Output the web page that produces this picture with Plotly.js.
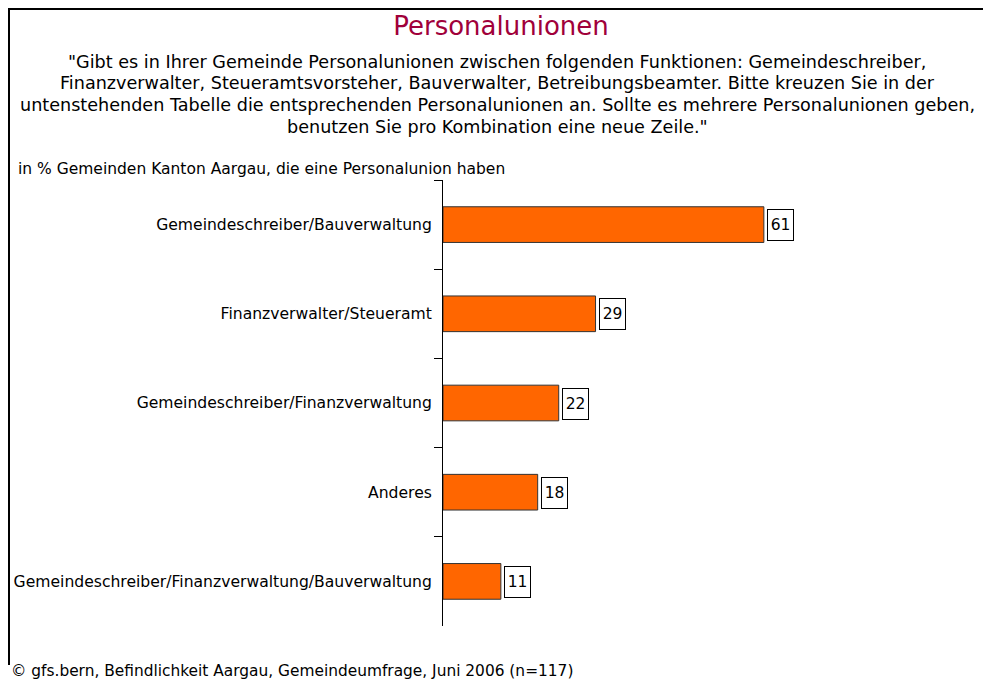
<!DOCTYPE html>
<html>
<head>
<meta charset="utf-8">
<script src="https://cdn.plot.ly/plotly-3.0.1.min.js"></script>
<style>
html,body{margin:0;padding:0;background:#fff;}
#chart{width:983px;height:681px;}
</style>
</head>
<body>
<div id="chart"></div>
<script>
const categories = [
  "Gemeindeschreiber/Bauverwaltung",
  "Finanzverwalter/Steueramt",
  "Gemeindeschreiber/Finanzverwaltung",
  "Anderes",
  "Gemeindeschreiber/Finanzverwaltung/Bauverwaltung"
];
const values = [61, 29, 22, 18, 11];

const titleText = "Personalunionen";
const questionLines = [
  "\"Gibt es in Ihrer Gemeinde Personalunionen zwischen folgenden Funktionen: Gemeindeschreiber,",
  "Finanzverwalter, Steueramtsvorsteher, Bauverwalter, Betreibungsbeamter. Bitte kreuzen Sie in der",
  "untenstehenden Tabelle die entsprechenden Personalunionen an. Sollte es mehrere Personalunionen geben,",
  "benutzen Sie pro Kombination eine neue Zeile.\""
];
const subtitleText = "in % Gemeinden Kanton Aargau, die eine Personalunion haben";
const footerText = "© gfs.bern, Befindlichkeit Aargau, Gemeindeumfrage, Juni 2006 (n=117)";

const W = 983, H = 681;
const mL = 443, mR = 14, mT = 180, mB = 55;
const pw = W - mL - mR, ph = H - mT - mB;
const px = x => (x - mL) / pw;
const py = y => 1 - (y - mT) / ph;

const FONT = "DejaVu Sans, Verdana, sans-serif";

const trace = {
  type: "bar",
  orientation: "h",
  x: values,
  y: categories,
  marker: {color: "#FF6600", line: {color: "#333333", width: 1}},
  hoverinfo: "x+y"
};

const valueAnn = values.map((v, i) => ({
  x: v, y: categories[i], xref: "x", yref: "y",
  text: String(v), showarrow: false,
  xanchor: "left", yanchor: "middle", xshift: 3, yshift: -0.5,
  width: 25, height: 30, borderpad: 0,
  bordercolor: "#000", borderwidth: 1, bgcolor: "#fff",
  font: {family: FONT, size: 15.5, color: "#000"}
}));

const lineY = [61.7, 83.4, 105.1, 126.8];
const questionAnn = questionLines.map((t, i) => ({
  text: t, xref: "paper", yref: "paper", x: px(497), y: py(lineY[i]),
  xanchor: "center", yanchor: "middle", showarrow: false, align: "center",
  font: {family: FONT, size: 17.6, color: "#000"}
}));

const layout = {
  width: W, height: H,
  margin: {l: mL, r: mR, t: mT, b: mB},
  paper_bgcolor: "#fff", plot_bgcolor: "#fff",
  showlegend: false,
  bargap: 0.6,
  title: {
    text: titleText,
    font: {family: FONT, size: 26, color: "#A0003A"},
    x: 501 / W, xref: "container", xanchor: "center",
    y: 1 - 25.5 / H, yref: "container", yanchor: "middle"
  },
  xaxis: {range: [0, 100], visible: false, fixedrange: true},
  yaxis: {
    type: "category", autorange: "reversed",
    showline: true, linecolor: "#000", linewidth: 1,
    ticks: "outside", ticklen: 8, tickcolor: "#000", tickwidth: 1,
    tickson: "boundaries", showgrid: false, zeroline: false,
    tickfont: {family: FONT, size: 15.6, color: "#000"},
    ticklabelstandoff: 7
  },
  annotations: questionAnn.concat([
    {text: subtitleText, xref: "paper", yref: "paper", x: px(16), y: py(169),
     xanchor: "left", yanchor: "middle", showarrow: false, align: "left",
     font: {family: FONT, size: 15.5, color: "#000"}},
    {text: footerText, xref: "paper", yref: "paper", x: px(9), y: py(671),
     xanchor: "left", yanchor: "middle", showarrow: false, align: "left",
     font: {family: FONT, size: 15.4, color: "#000"}}
  ]).concat(valueAnn),
  shapes: [
    {type: "line", xref: "paper", yref: "paper", x0: px(8), x1: px(990), y0: py(9), y1: py(9),
     line: {color: "#000", width: 2}},
    {type: "line", xref: "paper", yref: "paper", x0: px(9), x1: px(9), y0: py(8), y1: py(665),
     line: {color: "#000", width: 2}}
  ]
};

Plotly.newPlot("chart", [trace], layout, {displayModeBar: false, staticPlot: true});
</script>
</body>
</html>
